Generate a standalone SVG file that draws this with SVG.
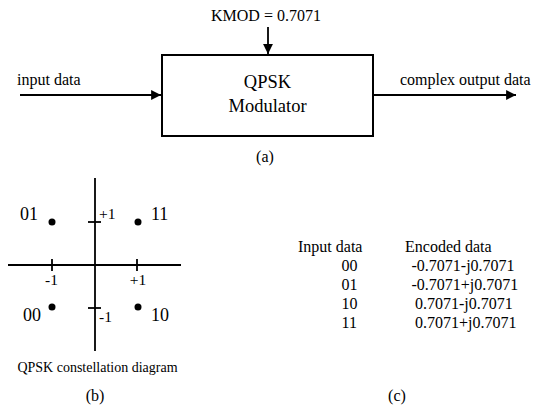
<svg xmlns="http://www.w3.org/2000/svg" width="538" height="408" viewBox="0 0 538 408">
<style>
.ln{stroke:#000;stroke-width:1.8;fill:none}
.ax{stroke:#000;stroke-width:1.8;fill:none}
</style>
<defs>
<marker id="ah" viewBox="0 0 10 10" refX="10" refY="5" markerWidth="5.5" markerHeight="5.5" orient="auto" markerUnits="strokeWidth">
<path d="M0,0 L10,5 L0,10 z" fill="#000"/>
</marker>
</defs>
<rect width="538" height="408" fill="#fff"/>
<g font-family="Liberation Serif, Times New Roman, DejaVu Serif, serif" fill="#000">
<g id="modulator">
<rect x="162" y="55" width="211" height="81" fill="#fff" stroke="#000" stroke-width="2"/>
<text font-size="18.5" x="267.5" y="88" text-anchor="middle">QPSK</text>
<text font-size="18.5" x="267.5" y="112" text-anchor="middle">Modulator</text>
</g>
<g id="labels-a" font-size="16">
<text x="266" y="21" text-anchor="middle">KMOD = 0.7071</text>
<text x="17" y="85">input data</text>
<text x="400" y="85">complex output data</text>
<text x="265" y="162" text-anchor="middle">(a)</text>
</g>
<g id="connectors">
<line class="ln" x1="268" y1="27" x2="268" y2="54" marker-end="url(#ah)"/>
<line class="ln" x1="20" y1="95" x2="161" y2="95" marker-end="url(#ah)"/>
<line class="ln" x1="373" y1="95" x2="516" y2="95" marker-end="url(#ah)"/>
</g>
<g id="constellation">
<line class="ax" x1="8" y1="265" x2="181" y2="265"/>
<line class="ax" x1="95" y1="178" x2="95" y2="351"/>
<line class="ax" x1="52" y1="259" x2="52" y2="271"/>
<line class="ax" x1="137" y1="259" x2="137" y2="271"/>
<line class="ax" x1="88" y1="222" x2="101" y2="222"/>
<line class="ax" x1="88" y1="308" x2="101" y2="308"/>
<circle cx="52" cy="222" r="3.5" fill="#000"/>
<circle cx="138" cy="222" r="3.5" fill="#000"/>
<circle cx="52" cy="307" r="3.5" fill="#000"/>
<circle cx="138" cy="307" r="3.5" fill="#000"/>
<g font-size="18">
<text x="20" y="220">01</text>
<text x="151" y="220">11</text>
<text x="23" y="321">00</text>
<text x="151" y="321">10</text>
</g>
<g font-size="15.5">
<text x="99" y="219">+1</text>
<text x="51.5" y="285" text-anchor="middle">-1</text>
<text x="138" y="285" text-anchor="middle">+1</text>
<text x="99" y="322">-1</text>
</g>
<text font-size="14" x="97.5" y="372" text-anchor="middle">QPSK constellation diagram</text>
<text font-size="16" x="95" y="401" text-anchor="middle">(b)</text>
</g>
<g id="table" font-size="16">
<text x="298" y="252">Input data</text>
<text x="405" y="252">Encoded data</text>
<text x="341.5" y="271">00</text>
<text x="341.5" y="290">01</text>
<text x="341.5" y="308.5">10</text>
<text x="341.5" y="327.5">11</text>
<text x="411.5" y="271">-0.7071-j0.7071</text>
<text x="411.5" y="290">-0.7071+j0.7071</text>
<text x="415" y="308.5">0.7071-j0.7071</text>
<text x="415" y="327.5">0.7071+j0.7071</text>
<text x="397" y="401" text-anchor="middle">(c)</text>
</g>
</g>
</svg>
